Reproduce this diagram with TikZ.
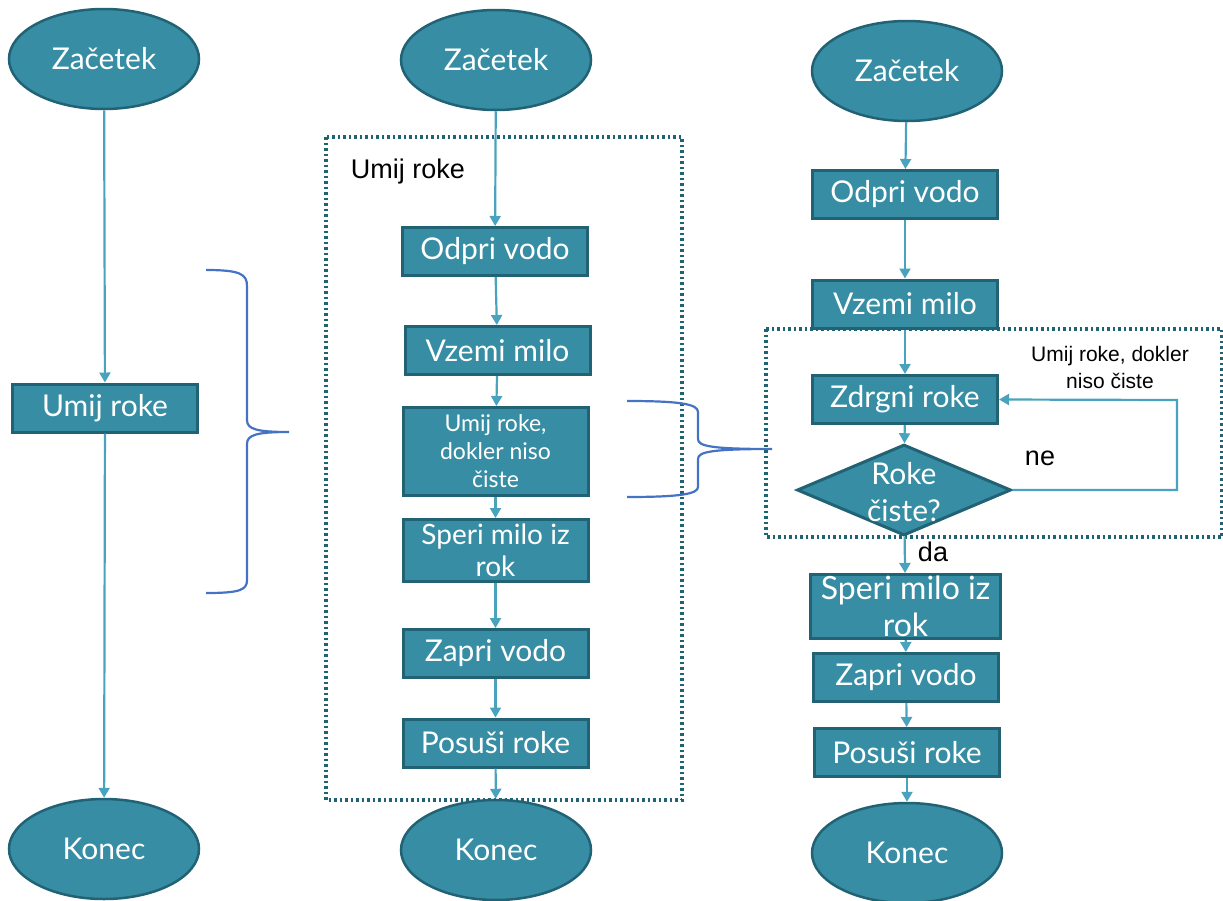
\documentclass[tikz,border=0pt]{standalone}
\usepackage{fontspec}
\setmainfont{Lato}
\newfontfamily\arialfont{Liberation Sans}
\usetikzlibrary{shapes.geometric,arrows.meta}
\definecolor{flowfill}{RGB}{55,142,164}
\definecolor{flowedge}{RGB}{33,98,117}
\definecolor{flowline}{RGB}{74,163,190}
\definecolor{loopdots}{RGB}{31,100,117}
\definecolor{bracecol}{RGB}{68,114,196}

\tikzset{
  startend/.style={ellipse, draw=flowedge, line width=2.5pt, fill=flowfill, text=white,
    minimum width=190pt, minimum height=100pt, font=\fontsize{30}{34}\selectfont},
  stepbox/.style={rectangle, draw=flowedge, line width=3pt, fill=flowfill, text=white,
    minimum width=185pt, minimum height=48pt, inner sep=0pt, align=center,
    font=\fontsize{30}{34}\selectfont},
  flow/.style={draw=flowline, line width=2.2pt, -{Triangle[width=11pt,length=10pt]}},
  loopbox/.style={draw=loopdots, line width=3.5pt, dash pattern=on 2.5pt off 3pt},
  bracket/.style={draw=bracecol, line width=2.2pt},
  note/.style={font=\arialfont\fontsize{27}{31}\selectfont, text=black, inner sep=0pt},
}

\begin{document}
\begin{tikzpicture}[x=1pt, y=-1pt]
\useasboundingbox (0,0) rectangle (1223,900);

% Left column: one step
\node[startend] (zacA) at (104,59) {Začetek};
\node[stepbox] (umijA) at (105,408) {Umij roke};
\node[startend] (konecA) at (104,849) {Konec};
\draw[flow] (zacA) -- (umijA);
\draw[flow] (umijA) -- (konecA);

% Brace to the middle column
\draw[bracket] (206,270) .. controls (240,270) and (247,274) .. (247,286) -- (247,420)
  .. controls (247,429) and (256,432) .. (289,432)
  .. controls (256,432) and (247,435) .. (247,444) -- (247,580)
  .. controls (247,590) and (240,593) .. (206,593);

% Middle column: steps of washing
\draw[loopbox] (326,137) rectangle (682,800);
\node[note] (nameB) at (408,172) {Umij roke};
\node[startend] (zacB) at (496,60) {Začetek};
\node[stepbox] (odpriB) at (495,251.5) {Odpri vodo};
\node[stepbox] (vzemiB) at (497.5,350.5) {Vzemi milo};
\node[stepbox, minimum height=88pt, font=\fontsize{23}{28}\selectfont] (umijB) at (495.5,451.5)
  {Umij roke,\\dokler niso\\čiste};
\node[stepbox, minimum height=62pt, font=\fontsize{28}{32}\selectfont] (speriB) at (495.5,550.5)
  {Speri milo iz\\rok};
\node[stepbox] (zapriB) at (495.5,653.5) {Zapri vodo};
\node[stepbox] (posusiB) at (495.5,743) {Posuši roke};
\node[startend] (konecB) at (496,850) {Konec};
\foreach \a/\b in {zacB/odpriB, odpriB/vzemiB, vzemiB/umijB, umijB/speriB,
                   speriB/zapriB, zapriB/posusiB, posusiB/konecB}
  \draw[flow] (\a) -- (\b);

% Brace to the right column
\draw[bracket] (627,401) .. controls (680,401) and (698,404) .. (698,412) -- (698,439)
  .. controls (698,446) and (710,449) .. (772,449)
  .. controls (710,449) and (698,452) .. (698,459) -- (698,487)
  .. controls (698,494) and (680,497) .. (627,497);

% Right column: loop with a decision
\draw[loopbox] (766,329) rectangle (1222,537);
\node[note, font=\arialfont\fontsize{21}{27}\selectfont, align=center] (nameC) at (1110,367)
  {Umij roke, dokler\\niso čiste};
\node[startend] (zacC) at (907,71) {Začetek};
\node[stepbox] (odpriC) at (905,194.5) {Odpri vodo};
\node[stepbox] (vzemiC) at (905,304) {Vzemi milo};
\node[stepbox] (zdrgniC) at (905,399.5) {Zdrgni roke};
\node[diamond, draw=flowedge, line width=3pt, fill=flowfill, inner sep=0pt,
  minimum width=214pt, minimum height=91pt] (rokeC) at (904,490) {};
\node[text=white, align=center, font=\fontsize{30}{37}\selectfont] (rokeT) at (904,492)
  {Roke\\čiste?};
\node[stepbox, minimum width=190pt, minimum height=64pt, font=\fontsize{32}{37}\selectfont]
  (speriC) at (905.5,606.5) {Speri milo iz\\rok};
\node[stepbox] (zapriC) at (906,677.5) {Zapri vodo};
\node[stepbox] (posusiC) at (907,752.5) {Posuši roke};
\node[startend] (konecC) at (907,853) {Konec};
\coordinate (backC) at (1177,400);
\node[note] (neC) at (1040,458) {ne};
\node[note] (daC) at (933,552) {da};
\foreach \a/\b in {zacC/odpriC, odpriC/vzemiC, vzemiC/zdrgniC, zdrgniC/rokeC,
                   rokeC/speriC, speriC/zapriC, zapriC/posusiC, posusiC/konecC}
  \draw[flow] (\a) -- (\b);
\draw[flow] (rokeC.east) -| (backC) -- (zdrgniC.east);
\end{tikzpicture}
\end{document}
